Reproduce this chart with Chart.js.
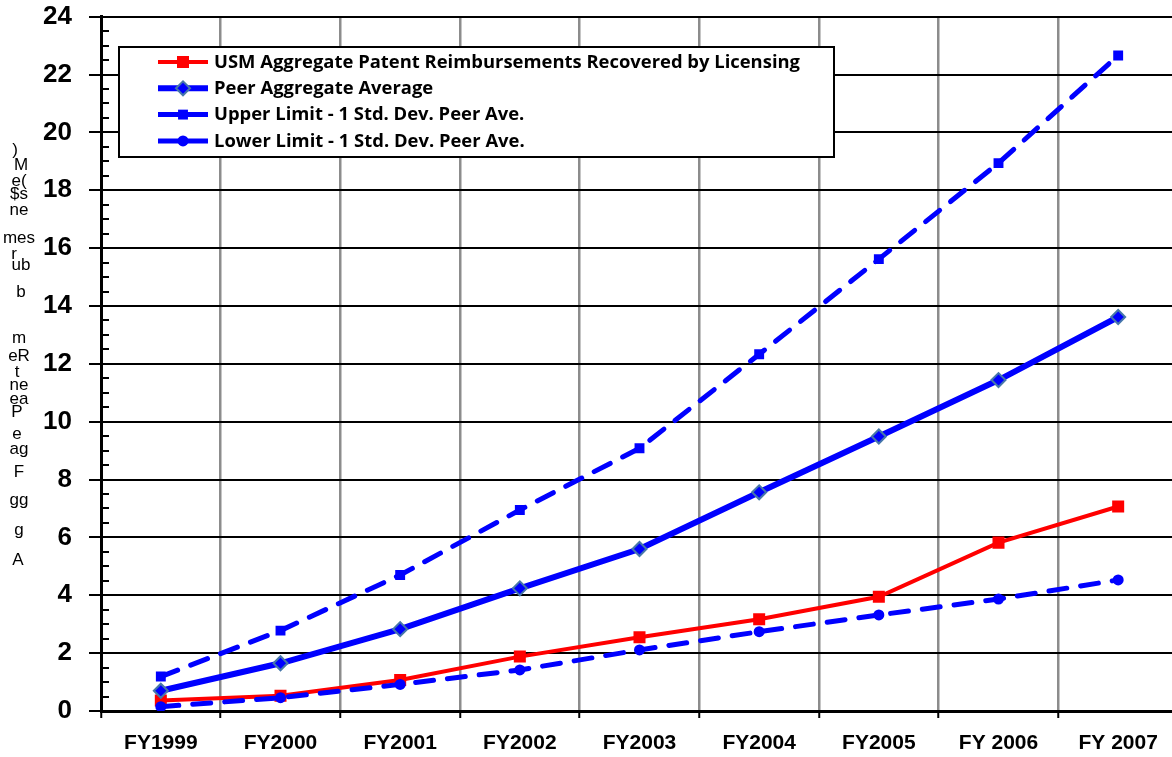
<!DOCTYPE html>
<html>
<head>
<meta charset="utf-8">
<title>Aggregate Patent Reimbursements</title>
<script src="https://cdn.jsdelivr.net/npm/chart.js@4.4.1/dist/chart.umd.min.js"></script>
<style>
  html, body { margin: 0; padding: 0; background: #ffffff; overflow: hidden; }
  #chart { display: block; }
</style>
</head>
<body>
<canvas id="chart" width="1187" height="757"></canvas>
<script>
// Fiscal years on the category axis
const fiscalYears = ['FY1999', 'FY2000', 'FY2001', 'FY2002', 'FY2003', 'FY2004', 'FY2005', 'FY 2006', 'FY 2007'];

// Reimbursements, $M
const usmRecovered = [0.36, 0.53, 1.07, 1.88, 2.55, 3.17, 3.95, 5.82, 7.07];
const peerAverage  = [0.70, 1.65, 2.83, 4.24, 5.60, 7.56, 9.49, 11.44, 13.62];
const peerUpper    = [1.19, 2.78, 4.70, 6.95, 9.08, 12.33, 15.62, 18.94, 22.66];
const peerLower    = [0.15, 0.46, 0.92, 1.42, 2.11, 2.74, 3.32, 3.87, 4.53];

const seriesNames = [
  'USM Aggregate Patent Reimbursements Recovered by Licensing',
  'Peer Aggregate Average',
  'Upper Limit - 1 Std. Dev. Peer Ave.',
  'Lower Limit - 1 Std. Dev. Peer Ave.'
];

// Value axis range
const yMin = 0, yMax = 24, yStep = 2, yMinorStep = 0.5;

// Stacked, out-of-order glyph rows of the value-axis title: [text, x, y]
const axisTitleRows = [
  [')', 15, 150], ['M', 21, 165], ['e(', 19, 181], ['$s', 19, 194], ['ne', 19, 210],
  ['mes', 19, 238], ['r', 14, 254], ['ub', 21, 265], ['b', 21, 292], ['m', 19, 338],
  ['eR', 19, 356], ['t', 17, 372], ['ne', 19, 385], ['ea', 19, 399], ['P', 17, 412],
  ['e', 17, 434], ['ag', 19, 449], ['F', 19, 472], ['gg', 19, 500], ['g', 19, 530], ['A', 18, 560]
];

const BLUE = '#0000ff';
const RED = '#ff0000';

const styles = [
  { color: RED,  width: 4, dash: [],       point: 'rect',    radius: 8.5, pointBorder: RED,       pointBorderWidth: 0 },
  { color: BLUE, width: 6, dash: [],       point: 'rectRot', radius: 7,   pointBorder: '#4677aa', pointBorderWidth: 2 },
  { color: BLUE, width: 5, dash: [18, 14], point: 'rect',    radius: 7,   pointBorder: BLUE,      pointBorderWidth: 0 },
  { color: BLUE, width: 5, dash: [18, 14], point: 'circle',  radius: 5.5, pointBorder: BLUE,      pointBorderWidth: 0 }
];

function makeDataset(i, values) {
  const s = styles[i];
  return {
    label: seriesNames[i],
    data: values,
    borderColor: s.color,
    backgroundColor: s.color,
    borderWidth: s.width,
    borderDash: s.dash,
    borderCapStyle: s.dash.length ? 'round' : 'butt',
    tension: 0,
    pointStyle: s.point,
    pointRadius: s.radius,
    pointHoverRadius: s.radius,
    pointBackgroundColor: s.color,
    pointBorderColor: s.pointBorder,
    pointBorderWidth: s.pointBorderWidth
  };
}

function drawMarker(ctx, style, x, y, r) {
  ctx.beginPath();
  if (style === 'rect') {
    const h = Math.SQRT1_2 * r;
    ctx.rect(x - h, y - h, 2 * h, 2 * h);
  } else if (style === 'rectRot') {
    ctx.moveTo(x - r, y); ctx.lineTo(x, y - r); ctx.lineTo(x + r, y); ctx.lineTo(x, y + r); ctx.closePath();
  } else {
    ctx.arc(x, y, r, 0, Math.PI * 2);
  }
}

// Minor ticks on the value axis
const minorTicks = {
  id: 'minorTicks',
  afterDraw(chart) {
    const { ctx, scales: { y } } = chart;
    ctx.save();
    ctx.strokeStyle = '#000';
    ctx.lineWidth = 2;
    for (let v = yMin; v <= yMax + 1e-9; v += yMinorStep) {
      if (Math.abs(v / yStep - Math.round(v / yStep)) < 1e-9) continue;
      const py = Math.round(y.getPixelForValue(v));
      ctx.beginPath();
      ctx.moveTo(y.right, py);
      ctx.lineTo(y.right + 8, py);
      ctx.stroke();
    }
    ctx.restore();
  }
};

// Value-axis title drawn as stacked glyph rows
const axisTitle = {
  id: 'axisTitle',
  afterDraw(chart) {
    const ctx = chart.ctx;
    ctx.save();
    ctx.fillStyle = '#000';
    ctx.font = '17px "Liberation Sans", Arial, sans-serif';
    ctx.textAlign = 'center';
    ctx.textBaseline = 'middle';
    axisTitleRows.forEach(([t, px, py]) => ctx.fillText(t, px, py));
    ctx.restore();
  }
};

// Boxed legend inside the plot area
const boxLegend = {
  id: 'boxLegend',
  afterDraw(chart) {
    const ctx = chart.ctx;
    const bx = 119, by = 47, bw = 715, bh = 110;
    ctx.save();
    ctx.fillStyle = '#fff';
    ctx.fillRect(bx, by, bw, bh);
    ctx.strokeStyle = '#000';
    ctx.lineWidth = 2;
    ctx.strokeRect(bx, by, bw, bh);

    ctx.font = 'bold 17px "Open Sans", sans-serif';
    const fit = 586 / ctx.measureText(seriesNames[0]).width;
    [0, 1, 2, 3].forEach((i, row) => {
      const s = styles[i];
      const ly = 62 + row * 26.3;
      ctx.strokeStyle = s.color;
      ctx.lineWidth = s.width;
      ctx.setLineDash([]);
      ctx.beginPath();
      ctx.moveTo(158, ly);
      ctx.lineTo(208, ly);
      ctx.stroke();
      drawMarker(ctx, s.point, 183, ly, s.radius);
      ctx.fillStyle = s.color;
      ctx.fill();
      if (s.pointBorderWidth) {
        ctx.lineWidth = s.pointBorderWidth;
        ctx.strokeStyle = s.pointBorder;
        ctx.stroke();
      }
      ctx.save();
      ctx.translate(214, ly + 1);
      ctx.scale(fit, 1);
      ctx.fillStyle = '#000';
      ctx.textAlign = 'left';
      ctx.textBaseline = 'middle';
      ctx.fillText(seriesNames[i], 0, 0);
      ctx.restore();
    });
    ctx.restore();
  }
};

new Chart(document.getElementById('chart'), {
  type: 'line',
  data: {
    labels: fiscalYears,
    // lower limit first so it is painted on top, USM series painted at the bottom
    datasets: [
      makeDataset(3, peerLower),
      makeDataset(2, peerUpper),
      makeDataset(1, peerAverage),
      makeDataset(0, usmRecovered)
    ]
  },
  options: {
    responsive: false,
    animation: false,
    layout: { padding: { top: 0, right: 3, left: 0, bottom: 0 } },
    plugins: { legend: { display: false }, tooltip: { enabled: false } },
    scales: {
      x: {
        type: 'category',
        offset: true,
        grid: { offset: true, color: '#8c8c8c', lineWidth: 2.5, drawTicks: true, tickLength: 7, tickColor: '#000', tickWidth: 2 },
        border: { display: true, color: '#000', width: 3 },
        ticks: { color: '#000', font: { family: '"Liberation Sans", Arial, sans-serif', size: 21, weight: 'bold' }, padding: 13, maxRotation: 0, autoSkip: false },
        afterFit(scale) { scale.height = 46; }
      },
      y: {
        min: yMin,
        max: yMax,
        grid: { color: '#000', lineWidth: 2, drawTicks: true, tickLength: 12, tickColor: '#000', tickWidth: 2 },
        border: { display: true, color: '#000', width: 3 },
        ticks: { stepSize: yStep, color: '#000', font: { family: '"Liberation Sans", Arial, sans-serif', size: 26, weight: 'bold' }, padding: 17 },
        afterFit(scale) {
          scale.width = 101;
          scale.paddingTop = 16.7;
          scale.paddingBottom = 16;
        }
      }
    }
  },
  plugins: [minorTicks, axisTitle, boxLegend]
});
</script>
</body>
</html>
